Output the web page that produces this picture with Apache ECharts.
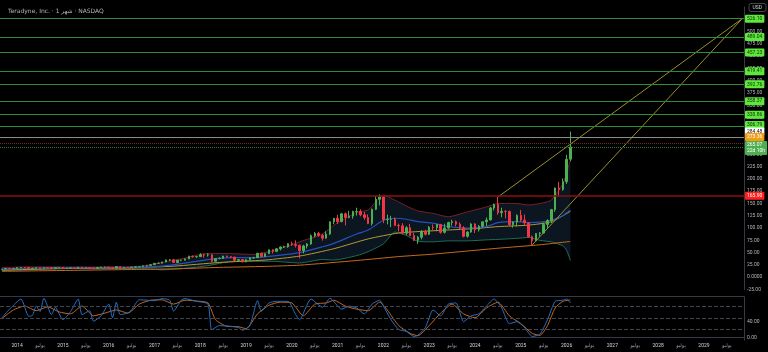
<!DOCTYPE html>
<html>
<head>
<meta charset="utf-8">
<script src="https://cdn.jsdelivr.net/npm/echarts@6/dist/echarts.min.js"></script>
<style>
  html, body { margin: 0; padding: 0; background: #000; }
  #chart { width: 768px; height: 352px; }
</style>
</head>
<body>
<div id="chart"></div>
<script>
// month categories, 2013-09 .. 2029-11
var months = [];
for (var yy = 2013, mm = 9; !(yy === 2029 && mm === 12); ) {
  months.push(yy + '-' + (mm < 10 ? '0' + mm : mm));
  mm++;
  if (mm > 12) { mm = 1; yy++; }
}

// monthly candles from 2013-09, [open, close, low, high]
var candles = [
  [16.0,16.6,15.6,17.0],[16.6,17.5,16.2,18.3],[17.5,17.3,16.8,18.0],[17.3,17.6,16.9,18.0],
  [17.6,19.8,17.3,20.4],[19.8,20.0,18.8,20.6],[20.0,19.9,18.9,20.6],[19.9,18.0,17.4,20.1],[18.0,18.3,17.5,18.8],[18.3,19.6,18.2,20.0],
  [19.6,18.2,17.9,20.3],[18.2,19.5,18.0,19.8],[19.5,19.4,19.0,20.4],[19.4,18.3,16.9,19.6],[18.3,19.5,17.9,19.8],[19.5,19.8,18.5,20.1],
  [19.8,18.0,17.6,19.9],[18.0,18.8,17.8,19.3],[18.8,18.9,18.1,19.3],[18.9,18.3,17.7,19.2],[18.3,20.5,18.0,20.9],[20.5,19.3,19.1,20.9],
  [19.3,19.4,18.4,19.8],[19.4,18.7,16.6,19.8],[18.7,18.0,17.4,19.3],[18.0,19.6,17.7,19.9],[19.6,20.6,19.4,21.3],[20.6,20.7,20.0,21.3],
  [20.7,19.4,18.4,20.8],[19.4,18.8,17.6,19.6],[18.8,21.6,18.5,21.8],[21.6,18.9,18.7,22.0],[18.9,20.0,18.5,20.3],[20.0,19.7,18.8,20.4],
  [19.7,20.6,19.3,21.0],[20.6,21.4,20.2,21.7],[21.4,21.6,20.6,22.1],[21.6,23.2,21.3,24.1],[23.2,24.0,21.6,24.8],[24.0,25.4,23.6,26.0],
  [25.4,28.3,25.2,28.6],[28.3,28.5,27.3,29.7],[28.5,31.1,28.2,31.5],[31.1,35.2,30.5,35.9],[35.2,35.4,33.0,36.9],[35.4,30.0,29.5,37.2],
  [30.0,34.5,29.9,35.0],[34.5,34.6,32.6,35.9],[34.6,37.3,34.2,37.9],[37.3,42.9,36.8,43.5],[42.9,41.6,39.8,44.1],[41.6,41.9,39.9,43.4],
  [41.9,45.8,41.5,49.0],[45.8,45.3,40.0,48.0],[45.3,45.7,42.0,48.7],[45.7,32.6,31.0,46.5],[32.6,37.9,32.0,38.8],[37.9,38.1,36.5,40.6],
  [38.1,43.1,37.0,43.8],[43.1,41.6,40.5,44.0],[41.6,41.1,38.4,43.2],[41.1,34.5,32.8,41.5],[34.5,36.0,32.0,37.0],[36.0,31.4,30.0,36.8],
  [31.4,35.6,30.6,37.0],[35.6,39.6,35.0,40.3],[39.6,39.8,37.6,41.5],[39.8,48.9,39.5,49.5],[48.9,42.2,41.5,49.7],[42.2,47.9,41.0,48.5],
  [47.9,55.7,47.0,56.5],[55.7,52.6,48.2,56.6],[52.6,57.9,51.0,59.0],[57.9,61.4,54.5,62.7],[61.4,62.0,59.5,64.0],[62.0,68.2,60.0,69.0],
  [68.2,66.4,63.5,72.6],[66.4,64.9,60.5,75.0],[64.9,54.0,38.5,66.5],[54.0,63.6,48.5,66.0],[63.6,67.6,58.5,69.5],[67.6,84.5,66.0,87.3],
  [84.5,89.0,81.0,92.0],[89.0,85.0,82.0,92.5],[85.0,79.5,74.5,88.0],[79.5,87.9,78.5,93.5],[87.9,112.7,86.0,113.5],[112.7,119.9,108.0,120.5],
  [119.9,113.2,108.5,127.0],[113.2,129.1,112.0,131.0],[129.1,121.7,105.5,131.5],[121.7,124.4,120.0,135.0],[124.4,133.5,119.0,135.5],[133.5,133.9,125.5,141.5],
  [133.9,127.0,124.0,138.0],[127.0,121.4,117.0,133.0],[121.4,109.2,108.0,128.0],[109.2,138.2,105.0,139.5],[138.2,158.6,136.5,164.5],[158.6,163.5,146.0,168.8],
  [163.5,117.6,110.0,164.0],[117.6,118.0,107.5,127.5],[118.0,118.2,102.0,125.0],[118.2,105.4,104.0,121.5],[105.4,104.6,93.0,109.0],[104.6,89.6,87.5,110.0],
  [89.6,100.8,86.0,104.0],[100.8,84.8,84.0,108.5],[84.8,75.2,73.5,90.5],[75.2,81.3,67.8,84.0],[81.3,93.5,77.0,96.0],[93.5,87.4,85.0,96.5],
  [87.4,101.6,86.0,104.5],[101.6,100.9,95.5,107.5],[100.9,107.5,93.5,108.5],[107.5,91.4,88.5,108.0],[91.4,100.2,89.0,109.0],[100.2,111.3,99.0,113.0],
  [111.3,113.0,105.0,117.0],[113.0,108.0,103.5,115.5],[108.0,100.5,98.5,111.5],[100.5,83.3,81.0,104.0],[83.3,92.0,80.5,93.5],[92.0,108.5,90.5,110.0],
  [108.5,96.7,90.0,110.0],[96.7,103.6,93.0,106.5],[103.6,112.8,100.5,113.5],[112.8,116.6,104.0,121.5],[116.6,140.8,115.5,143.0],[140.8,148.3,136.0,150.0],
  [148.3,131.3,127.0,163.2],[131.3,134.1,122.0,141.5],[134.1,133.9,119.5,136.5],[133.9,106.9,104.0,135.5],[106.9,112.3,101.0,113.5],[112.3,125.9,103.0,128.0],
  [125.9,116.2,112.5,137.0],[116.2,110.6,105.5,127.5],[110.6,82.6,80.5,112.0],[82.6,74.0,65.8,85.0],[74.0,88.9,73.0,89.5],[88.9,89.9,82.5,92.0],
  [89.9,107.4,89.0,111.5],[107.4,115.5,100.0,118.0],[115.5,137.6,110.5,139.0],[137.6,181.5,133.0,182.5],[181.5,178.5,164.0,194.0],[178.5,194.5,176.0,201.0],
  [194.5,240.2,190.0,249.0],[240.2,265.07,236.0,296.5]
];

// bollinger bands, read at sample months
var bbDates = ['2013-09','2014-03','2014-09','2015-03','2015-09','2016-03','2016-09','2017-03','2017-09','2018-03','2018-09','2019-03','2019-09','2020-03','2020-09','2020-12','2021-06','2021-09','2022-01','2022-04','2022-07','2022-10','2023-02','2023-06','2023-11','2024-04','2024-07','2024-12','2025-03','2025-06','2025-09','2025-12','2026-01','2026-02'];
var bbUpper = [19.5,21.0,21.0,20.8,20.7,21.3,22.0,30.0,39.0,48.5,48.0,46.5,56.0,72.0,88.0,106.0,132.0,137.0,167.0,157.0,145.0,135.0,130.0,123.0,133.0,143.0,150.0,150.0,147.0,150.0,157.0,190.0,212.0,238.52];
var bbBasis = [16.5,18.0,19.0,19.2,19.0,19.5,20.0,22.5,28.5,36.0,40.0,39.5,44.0,50.0,62.0,69.0,88.0,96.0,116.0,120.0,118.0,113.0,110.0,103.0,100.0,103.0,111.0,113.0,111.0,112.0,116.0,125.0,131.0,136.28];
var bbLower = [13.5,15.0,17.0,17.6,17.3,17.7,18.0,15.0,18.0,23.5,32.0,32.5,32.0,29.0,36.0,35.0,44.0,52.0,68.0,92.0,85.0,73.0,72.0,74.0,74.0,76.0,77.0,79.0,81.0,75.0,72.0,64.0,55.0,34.04];

// moving averages
var maYDates = ['2013-09','2015-01','2016-06','2017-06','2018-06','2019-06','2020-03','2020-12','2021-09','2022-05','2023-02','2024-01','2024-07','2025-03','2025-09','2026-02'];
var maYVals = [14.5,17.5,19.0,22.5,30.0,35.0,43.0,58.0,78.0,90.0,94.5,99.0,103.0,106.0,113.0,134.05];
var maODates = ['2013-09','2016-01','2017-06','2018-06','2019-06','2020-03','2021-06','2022-05','2023-02','2024-07','2025-06','2026-02'];
var maOVals = [12.0,15.0,17.0,20.0,22.0,24.5,34.0,42.0,47.0,59.0,66.0,72.80];

// stochastic
var kDates = ['2013-09','2013-11','2014-02','2014-04','2014-05','2014-06','2014-07','2014-08','2014-10','2014-11','2015-01','2015-03','2015-05','2015-06','2015-08','2015-09','2015-11','2016-01','2016-02','2016-03','2016-04','2016-06','2016-07','2016-09','2016-11','2017-01','2017-03','2017-05','2017-06','2017-08','2017-09','2017-12','2018-03','2018-04','2018-06','2018-09','2018-11','2018-12','2019-02','2019-04','2019-05','2019-07','2019-09','2019-12','2020-02','2020-03','2020-06','2020-09','2020-11','2021-02','2021-04','2021-06','2021-08','2021-10','2021-12','2022-01','2022-03','2022-05','2022-07','2022-09','2022-10','2022-12','2023-02','2023-04','2023-06','2023-08','2023-10','2023-12','2024-02','2024-04','2024-06','2024-08','2024-10','2024-12','2025-02','2025-04','2025-06','2025-08','2025-10','2025-12','2026-01','2026-02'];
var kVals = [50,72,98,54,56,80,66,100,58,77,45,66,98,58,68,41,55,85,50,90,58,62,70,96,95,94,99,95,67,95,99,92,85,19,30,28,25,18,30,94,67,88,92,92,58,45,98,77,100,72,80,75,60,85,95,80,45,20,15,2,5,25,70,55,85,88,40,55,60,80,98,75,35,40,25,2,8,45,92,95,98,88.40];
var dDates = ['2013-09','2013-12','2014-03','2014-06','2014-09','2014-12','2015-03','2015-06','2015-09','2015-12','2016-03','2016-06','2016-09','2016-12','2017-03','2017-06','2017-09','2017-12','2018-03','2018-05','2018-08','2018-11','2019-01','2019-04','2019-07','2019-10','2020-01','2020-04','2020-07','2020-10','2020-12','2021-03','2021-06','2021-09','2021-12','2022-02','2022-05','2022-08','2022-10','2023-01','2023-04','2023-07','2023-10','2024-01','2024-04','2024-07','2024-10','2025-01','2025-04','2025-06','2025-08','2025-10','2025-12','2026-02'];
var dVals = [48,70,80,68,78,65,60,80,55,62,70,62,85,95,96,85,95,93,88,45,28,27,22,60,82,90,88,55,85,88,95,80,72,68,90,70,30,10,4,30,62,85,60,50,75,90,55,35,10,5,30,75,92,95.81];

// horizontal levels and trend lines
var levelPrices = [526.10, 489.04, 457.23, 419.41, 392.76, 358.37, 330.86, 306.79];
var refPrice = 284.48;
var alertPrice = 273.36;
var alertTag = 'جد';
var countdown = '22d 10h';
var resistPrice = 165.90;
var trendFrom = [['2024-07', 163.2], ['2025-04', 65.8]];
var trendTo = ['2029-11', 526.10];
var priceTicks = [-25, 0, 25, 50, 75, 100, 125, 150, 175, 200, 225, 250, 275, 300, 325, 350, 375, 400, 425, 450, 475, 500];
var stochTicks = [0, 40];
var stochBands = [80, 50, 20];

function pairs(dates, vals) {
  return dates.map(function (d, i) { return [d, vals[i]]; });
}
function last(a) { return a[a.length - 1]; }

function tag(bg, fg, extra) {
  var o = {
    show: true, position: 'end', distance: 1,
    formatter: function (p) { return (+p.value).toFixed(2); },
    backgroundColor: bg, color: fg, fontSize: 5, lineHeight: 6,
    padding: [1, 2, 1, 2], borderRadius: 1, fontFamily: 'Roboto'
  };
  for (var k in extra) o[k] = extra[k];
  return o;
}
var hidden = { opacity: 0 };

var priceMarks = [];
levelPrices.forEach(function (v, i) {
  priceMarks.push({ yAxis: v, lineStyle: { color: '#2e8b36', width: 1, type: 'solid' },
    label: tag('#5ee83c', '#0b2a08', i === levelPrices.length - 1 ? { offset: [0, -1.5] } : {}) });
});
priceMarks.push({ yAxis: refPrice, lineStyle: { color: '#8c8c8c', width: 1, type: 'solid' }, label: tag('#ffffff', '#111', { offset: [0, -6] }) });
priceMarks.push({ yAxis: alertPrice, lineStyle: { color: '#7a2626', width: 1, type: 'dotted' }, label: tag('#f39c12', '#fff', { offset: [0, -6] }) });
priceMarks.push({ yAxis: alertPrice, lineStyle: hidden, label: tag('#f39c12', '#fff', { position: 'insideEnd', distance: 1, offset: [0, -6], formatter: alertTag }) });
priceMarks.push({ yAxis: last(candles)[1], lineStyle: { color: '#2f7d3a', width: 1, type: 'dotted' },
  label: tag('#4caf50', '#fff', { formatter: function (p) { return (+p.value).toFixed(2) + '\n' + countdown; }, offset: [0, 1] }) });
priceMarks.push({ yAxis: last(bbUpper), lineStyle: hidden, label: tag('#f0475a', '#fff') });
priceMarks.push({ yAxis: resistPrice, lineStyle: { color: '#8b1010', width: 1.5, type: 'solid' }, label: tag('#ff1f1f', '#fff') });
priceMarks.push({ yAxis: last(bbBasis), lineStyle: hidden, label: tag('#2962ff', '#fff') });
priceMarks.push({ yAxis: last(maYVals), lineStyle: hidden, label: tag('#ffeb3b', '#222', { offset: [0, 6] }) });
priceMarks.push({ yAxis: last(maOVals), lineStyle: hidden, label: tag('#ff9800', '#222') });
priceMarks.push({ yAxis: last(bbLower), lineStyle: hidden, label: tag('#089981', '#fff') });

var stochMarks = stochBands.map(function (v) {
  return { yAxis: v, lineStyle: { color: '#434651', width: 1, type: 'dashed' }, label: { show: false } };
});
stochMarks.push({ yAxis: 104, lineStyle: { color: '#363a45', width: 1, type: 'solid' }, label: { show: false } });
stochMarks.push({ yAxis: last(dVals), lineStyle: hidden, label: tag('#ff6d00', '#fff', { offset: [0, -2.5] }) });
stochMarks.push({ yAxis: last(kVals), lineStyle: hidden, label: tag('#2196f3', '#fff') });

var chart = echarts.init(document.getElementById('chart'));

var option = {
  animation: false,
  backgroundColor: '#000',
  title: [
    { text: 'Teradyne, Inc. · 1 شهر · NASDAQ', left: 3, top: 3,
      textStyle: { color: '#b2b5be', fontSize: 6, fontWeight: 'normal', fontFamily: 'DejaVu Sans' } },
    { text: 'USD', right: 2, top: 3, borderColor: '#434651', borderWidth: 1, borderRadius: 2, padding: [2, 4],
      textStyle: { color: '#d1d4dc', fontSize: 5, fontWeight: 'normal', fontFamily: 'Roboto' } }
  ],
  grid: [
    { left: 0, right: 24, top: 7, height: 282.5 },
    { left: 0, right: 24, top: 296.7, height: 43.3 }
  ],
  xAxis: [
    { type: 'category', gridIndex: 0, data: months, show: false },
    { type: 'category', gridIndex: 1, data: months,
      axisLine: { lineStyle: { color: '#363a45' } }, axisTick: { show: false },
      axisLabel: {
        interval: function (i, v) { return v.slice(5) === '01' || v.slice(5) === '07'; },
        formatter: function (v) { return v.slice(5) === '01' ? '{y|' + v.slice(0, 4) + '}' : '{m|يوليو}'; },
        margin: 3,
        rich: { y: { color: '#d1d4dc', fontSize: 5, fontFamily: 'Roboto' }, m: { color: '#9598a1', fontSize: 5, fontFamily: 'DejaVu Sans' } }
      } }
  ],
  yAxis: [
    { type: 'value', gridIndex: 0, position: 'right', min: -25, max: 550,
      axisLine: { show: true, lineStyle: { color: '#363a45' } }, axisTick: { show: false }, splitLine: { show: false },
      axisLabel: { customValues: priceTicks, color: '#b2b5be', fontSize: 5, margin: 3, fontFamily: 'Roboto',
        formatter: function (v) { return v === 0 ? '0.0000' : v.toFixed(2); } } },
    { type: 'value', gridIndex: 1, position: 'right', min: -7, max: 104,
      axisLine: { show: true, lineStyle: { color: '#363a45' } }, axisTick: { show: false }, splitLine: { show: false },
      axisLabel: { customValues: stochTicks, color: '#b2b5be', fontSize: 5, margin: 3, fontFamily: 'Roboto',
        formatter: function (v) { return v.toFixed(2); } } }
  ],
  series: [
    { type: 'custom', xAxisIndex: 0, yAxisIndex: 0, z: 1, silent: true,
      data: bbDates.map(function (d, i) { return [months.indexOf(d), bbUpper[i], bbLower[i]]; }),
      encode: { x: 0, y: [1, 2] },
      renderItem: function (params, api) {
        if (params.dataIndex !== 0) return null;
        var top = bbDates.map(function (d, i) { return api.coord([months.indexOf(d), bbUpper[i]]); });
        var bot = bbDates.map(function (d, i) { return api.coord([months.indexOf(d), bbLower[i]]); }).reverse();
        return { type: 'polygon', shape: { points: top.concat(bot) }, style: { fill: '#0b1620' } };
      } },
    { type: 'line', data: pairs(bbDates, bbUpper), symbol: 'none', smooth: 0.2, z: 2, lineStyle: { color: '#7b1d2a', width: 1 } },
    { type: 'line', data: pairs(bbDates, bbLower), symbol: 'none', smooth: 0.2, z: 2, lineStyle: { color: '#1e6e5a', width: 1 } },
    { type: 'line', data: pairs(maODates, maOVals), symbol: 'none', smooth: 0.2, z: 2, lineStyle: { color: '#c86a1e', width: 1 } },
    { type: 'line', data: pairs(maYDates, maYVals), symbol: 'none', smooth: 0.2, z: 2, lineStyle: { color: '#b49a2e', width: 1 } },
    { type: 'line', data: pairs(bbDates, bbBasis), symbol: 'none', smooth: 0.2, z: 2, lineStyle: { color: '#2650c0', width: 1.2 } },
    { type: 'line', data: [trendFrom[0], trendTo], symbol: 'none', z: 2, lineStyle: { color: '#9c8f2a', width: 1 } },
    { type: 'line', data: [trendFrom[1], trendTo], symbol: 'none', z: 2, lineStyle: { color: '#9c8f2a', width: 1 } },
    { type: 'candlestick', data: candles, z: 3, barWidth: 2,
      itemStyle: { color: '#4caf50', color0: '#f23645', borderColor: '#4caf50', borderColor0: '#f23645', borderWidth: 1 },
      markLine: { symbol: ['none', 'none'], silent: true, data: priceMarks } },
    { type: 'line', xAxisIndex: 1, yAxisIndex: 1, data: pairs(dDates, dVals), symbol: 'none', smooth: 0.2, lineStyle: { color: '#c8661e', width: 1 } },
    { type: 'line', xAxisIndex: 1, yAxisIndex: 1, data: pairs(kDates, kVals), symbol: 'none', smooth: 0.2, lineStyle: { color: '#2471c8', width: 1 },
      markLine: { symbol: ['none', 'none'], silent: true, data: stochMarks } }
  ]
};
chart.setOption(option);
</script>
</body>
</html>
